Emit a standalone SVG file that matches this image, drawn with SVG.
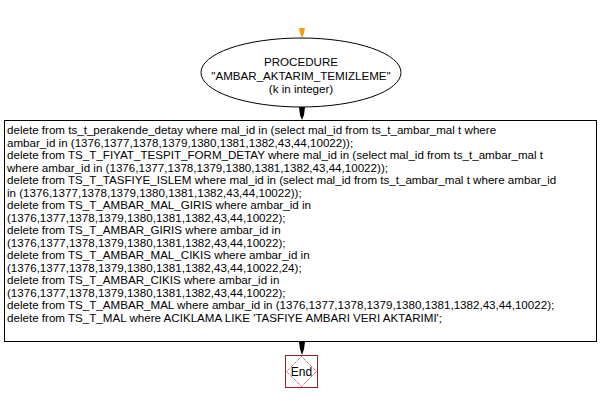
<svg xmlns="http://www.w3.org/2000/svg" width="601" height="402" viewBox="0 0 601 402">
<style>
text{font-family:"Liberation Sans",Arial,sans-serif;font-size:11.6px;fill:#000}
.c{text-anchor:middle}
.shape{fill:#fff;stroke:#000;stroke-width:1}
</style>
<rect width="601" height="402" fill="#fff"/>
<g id="connectors">
<polygon points="299,28 305,28 304,33 302,38 300,33" fill="#f5a000"/>
<polygon points="299,107 305,107 304,115 302,120 300,115" fill="#000"/>
<polygon points="299,342 305,342 304,349 302,355 300,349" fill="#000"/>
</g>
<g id="start">
<ellipse class="shape" cx="301" cy="72.5" rx="100" ry="34.5"/>
<text class="c" x="301" y="66">PROCEDURE</text>
<text class="c" x="301" y="79.5">"AMBAR_AKTARIM_TEMIZLEME"</text>
<text class="c" x="301" y="93">(k in integer)</text>
</g>
<g id="body">
<rect class="shape" x="4.5" y="120.5" width="592" height="221"/>
<text x="7" y="134">delete from ts_t_perakende_detay where mal_id in (select mal_id from ts_t_ambar_mal t where</text>
<text x="7" y="146.5">ambar_id in (1376,1377,1378,1379,1380,1381,1382,43,44,10022));</text>
<text x="7" y="159">delete from TS_T_FIYAT_TESPIT_FORM_DETAY where mal_id in (select mal_id from ts_t_ambar_mal t</text>
<text x="7" y="171.5">where ambar_id in (1376,1377,1378,1379,1380,1381,1382,43,44,10022));</text>
<text x="7" y="184">delete from TS_T_TASFIYE_ISLEM where mal_id in (select mal_id from ts_t_ambar_mal t where ambar_id</text>
<text x="7" y="196.5">in (1376,1377,1378,1379,1380,1381,1382,43,44,10022));</text>
<text x="7" y="209">delete from TS_T_AMBAR_MAL_GIRIS where ambar_id in</text>
<text x="7" y="221.5">(1376,1377,1378,1379,1380,1381,1382,43,44,10022);</text>
<text x="7" y="234">delete from TS_T_AMBAR_GIRIS where ambar_id in</text>
<text x="7" y="246.5">(1376,1377,1378,1379,1380,1381,1382,43,44,10022);</text>
<text x="7" y="259">delete from TS_T_AMBAR_MAL_CIKIS where ambar_id in</text>
<text x="7" y="271.5">(1376,1377,1378,1379,1380,1381,1382,43,44,10022,24);</text>
<text x="7" y="284">delete from TS_T_AMBAR_CIKIS where ambar_id in</text>
<text x="7" y="296.5">(1376,1377,1378,1379,1380,1381,1382,43,44,10022);</text>
<text x="7" y="309">delete from TS_T_AMBAR_MAL where ambar_id in (1376,1377,1378,1379,1380,1381,1382,43,44,10022);</text>
<text x="7" y="321.5">delete from TS_T_MAL where ACIKLAMA LIKE 'TASFIYE AMBARI VERI AKTARIMI';</text>
</g>
<g id="end">
<rect x="285.5" y="355.5" width="32" height="32" fill="#fff" stroke="#8b2525" stroke-width="1"/>
<polygon points="301.5,356.5 316.5,371.5 301.5,386.5 286.5,371.5" fill="none" stroke="#c02020" stroke-width="1" stroke-dasharray="1,1"/>
<text class="c" x="301.5" y="376" style="font-size:12px">End</text>
</g>
</svg>
